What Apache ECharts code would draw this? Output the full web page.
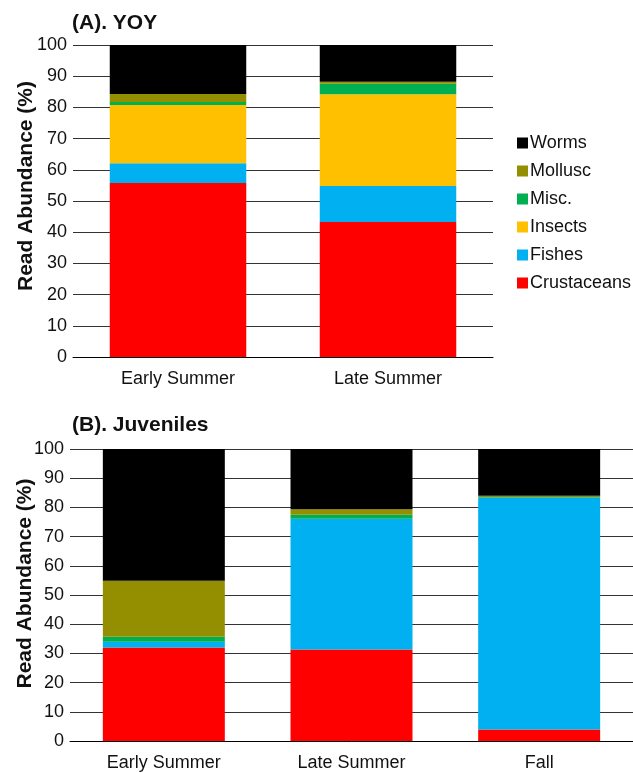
<!DOCTYPE html>
<html>
<head>
<meta charset="utf-8">
<title>Read Abundance</title>
<script src="https://cdn.jsdelivr.net/npm/echarts@6/dist/echarts.min.js"></script>
<style>
  html, body { margin: 0; padding: 0; background: #fff; }
  #main { width: 633px; height: 773px; }
</style>
</head>
<body>
<div id="main"></div>
<script>
// categories
var catsA = ['Early Summer', 'Late Summer'];
var catsB = ['Early Summer', 'Late Summer', 'Fall'];
var yTicks = [0, 10, 20, 30, 40, 50, 60, 70, 80, 90, 100];

// groups, bottom to top
var groups = ['Crustaceans', 'Fishes', 'Insects', 'Misc.', 'Mollusc', 'Worms'];
var colors = ['#ff0000', '#00b0f0', '#ffc000', '#00b050', '#948f00', '#000000'];

// (A) YOY
var crustA = [55.8, 43.3];
var fishA = [6.3, 11.5];
var insectA = [18.7, 29.4];
var miscA = [0.9, 3.4];
var molluscA = [2.6, 0.6];
var wormA = [15.7, 11.8];

// (B) Juveniles
var crustB = [32.0, 31.3, 3.9];
var fishB = [2.0, 44.8, 79.5];
var insectB = [0, 0, 0];
var miscB = [1.7, 1.4, 0.2];
var molluscB = [19.2, 1.9, 0.4];
var wormB = [45.1, 20.6, 16.0];

var dataA = [crustA, fishA, insectA, miscA, molluscA, wormA];
var dataB = [crustB, fishB, insectB, miscB, molluscB, wormB];

var font = 'Liberation Sans, Arial, sans-serif';

// lift is extra left padding on the rotated name, moves it up the axis
function yAxis(idx, gap, lift) {
  return {
    type: 'value', gridIndex: idx, min: 0, max: 100, interval: 10,
    name: 'Read Abundance (%)', nameLocation: 'middle', nameGap: gap,
    nameMoveOverlap: false,
    nameTextStyle: { fontFamily: font, fontSize: 21, fontWeight: 'bold', color: '#111',
      padding: [0, 0, 0, lift] },
    axisLine: { show: false }, axisTick: { show: false },
    axisLabel: { fontFamily: font, fontSize: 18, color: '#111', margin: 6 },
    splitLine: { lineStyle: { color: '#333', width: 1 } }
  };
}

function xAxis(idx, cats) {
  return {
    type: 'category', gridIndex: idx, data: cats,
    axisLine: { lineStyle: { color: '#000', width: 1 } },
    axisTick: { show: false },
    axisLabel: { fontFamily: font, fontSize: 18, color: '#111', margin: 13 }
  };
}

var series = [];
groups.forEach(function (g, i) {
  series.push({ name: g, type: 'bar', stack: 'A', xAxisIndex: 0, yAxisIndex: 0,
    barWidth: '65%', itemStyle: { color: colors[i] }, data: dataA[i] });
});
groups.forEach(function (g, i) {
  series.push({ name: g, type: 'bar', stack: 'B', xAxisIndex: 1, yAxisIndex: 1,
    barWidth: '65%', itemStyle: { color: colors[i] }, data: dataB[i] });
});

var chart = echarts.init(document.getElementById('main'));
chart.setOption({
  animation: false,
  title: [
    { text: '(A). YOY', left: 67, top: 8,
      textStyle: { fontFamily: font, fontSize: 21, fontWeight: 'bold', color: '#111' } },
    { text: '(B). Juveniles', left: 67, top: 410,
      textStyle: { fontFamily: font, fontSize: 21, fontWeight: 'bold', color: '#111' } }
  ],
  legend: {
    data: groups.slice().reverse(),
    orient: 'vertical', left: 512, top: 129,
    itemWidth: 11, itemHeight: 11, itemGap: 10,
    icon: 'rect',
    textStyle: { fontFamily: font, fontSize: 18, color: '#111', padding: [0, 0, 0, -3] }
  },
  grid: [
    { left: 73, top: 45, width: 420, height: 312, outerBoundsMode: 'none' },
    { left: 70, top: 449, width: 563, height: 292, outerBoundsMode: 'none' }
  ],
  xAxis: [xAxis(0, catsA), xAxis(1, catsB)],
  yAxis: [yAxis(0, 36, 30), yAxis(1, 34, 23)],
  series: series
});
</script>
</body>
</html>
